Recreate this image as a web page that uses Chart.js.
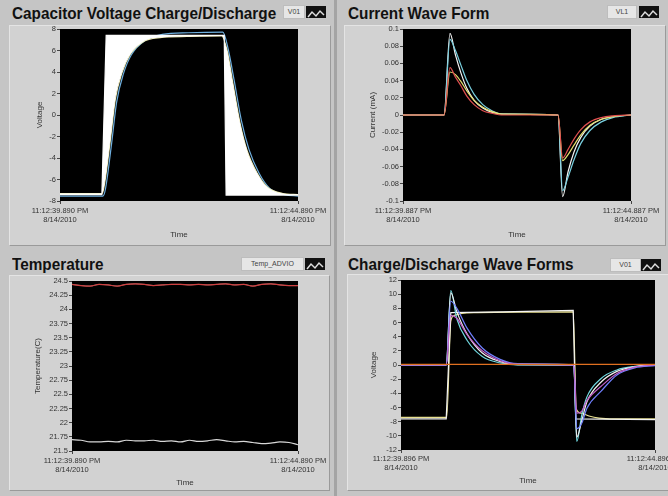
<!DOCTYPE html>
<html>
<head>
<meta charset="utf-8">
<script src="https://cdn.jsdelivr.net/npm/chart.js@4.4.0/dist/chart.umd.min.js"></script>
<style>
  body { margin: 0; width: 668px; height: 496px; overflow: hidden; background: #c5c5c5; position: relative; font-family: 'Liberation Sans', Arial, sans-serif; }
  .frame { position: absolute; background: #d2d2d2; border-top: 1px solid #e4e4e4; border-left: 1px solid #e4e4e4; border-right: 1px solid #9a9a9a; border-bottom: 1px solid #9a9a9a; }
  .title { position: absolute; font-weight: bold; font-size: 17px; color: #111; white-space: nowrap; transform-origin: 0 0; transform: scaleX(0.9); }
  .leg { position: absolute; background: #e6e6e6; border: 1px solid #bdbdbd; font-size: 7px; color: #444; line-height: 12px; text-align: center; }
  .icon { position: absolute; background: #111; }
  .divider { position: absolute; left: 334px; top: 0; width: 3px; height: 496px; background: #a4a4a4; }
  canvas { position: absolute; }
</style>
</head>
<body>
<div class="divider"></div>

<div class="frame" style="left:9px;top:25px;width:320px;height:219px"></div>
<div class="frame" style="left:344px;top:25px;width:320px;height:219px"></div>
<div class="frame" style="left:9px;top:275px;width:319px;height:214px"></div>
<div class="frame" style="left:347px;top:274px;width:322px;height:215px"></div>

<div class="title" style="left:12px;top:4px">Capacitor Voltage Charge/Discharge</div>
<div class="title" style="left:348px;top:4px">Current Wave Form</div>
<div class="title" style="left:12px;top:255px">Temperature</div>
<div class="title" style="left:348px;top:255px">Charge/Discharge Wave Forms</div>

<div class="leg" style="left:283px;top:5px;width:20px;height:12px">V01</div>
<div class="icon" style="left:306px;top:6px;width:20px;height:12px"><svg width="20" height="12"><polyline points="2,9 6,4 10,8 14,3 18,7" fill="none" stroke="#ddd" stroke-width="1.5"/></svg></div>
<div class="leg" style="left:607px;top:5px;width:28px;height:12px">VL1</div>
<div class="icon" style="left:639px;top:6px;width:20px;height:12px"><svg width="20" height="12"><polyline points="2,9 6,4 10,8 14,3 18,7" fill="none" stroke="#ddd" stroke-width="1.5"/></svg></div>
<div class="leg" style="left:241px;top:257px;width:61px;height:12px">Temp_ADVIO</div>
<div class="icon" style="left:305px;top:258px;width:20px;height:12px"><svg width="20" height="12"><polyline points="2,9 6,4 10,8 14,3 18,7" fill="none" stroke="#ddd" stroke-width="1.5"/></svg></div>
<div class="leg" style="left:610px;top:258px;width:29px;height:12px">V01</div>
<div class="icon" style="left:641px;top:259px;width:20px;height:12px"><svg width="20" height="12"><polyline points="2,9 6,4 10,8 14,3 18,7" fill="none" stroke="#ddd" stroke-width="1.5"/></svg></div>

<canvas id="cap" width="334" height="248" style="left:0;top:0"></canvas>
<canvas id="cur" width="334" height="248" style="left:334px;top:0"></canvas>
<canvas id="temp" width="334" height="248" style="left:0;top:248px"></canvas>
<canvas id="cd" width="360" height="248" style="left:334px;top:248px"></canvas>

<script>
// Capacitor Voltage Charge/Discharge (time in s from start)
const capSquareT = [0, 0.88, 0.97, 3.45, 3.49, 5];
const capSquareV = [-7.4, -7.4, 7.4, 7.4, -7.45, -7.45];
const capCurveT = [0, 0.88, 0.92, 1.05, 1.16, 1.30, 1.47, 1.74, 2.10, 2.67, 3.40, 3.51, 3.63, 3.78, 3.93, 4.14, 4.35, 4.68, 5];
const capCurveV = [-7.3, -7.3, -6.8, -2.6, 1.4, 3.9, 5.6, 6.8, 7.2, 7.3, 7.35, 6.0, 3.0, -0.7, -3.3, -5.4, -6.7, -7.3, -7.4];
const capBlueT = [0, 0.9, 0.95, 1.08, 1.19, 1.33, 1.5, 1.78, 2.15, 2.7, 3.42, 3.53, 3.66, 3.81, 3.97, 4.18, 4.4, 4.72, 5];
const capBlueV = [-7.55, -7.55, -7.0, -2.8, 1.2, 3.8, 5.6, 6.9, 7.5, 7.65, 7.7, 6.2, 3.2, -0.5, -3.2, -5.4, -6.8, -7.4, -7.55];
const capXLabels = [['11:12:39.890 PM', '8/14/2010'], ['11:12:44.890 PM', '8/14/2010']];

// Current Wave Form
const curT = [0, 0.9, 1.03, 1.15, 1.27, 1.4, 1.56, 1.75, 1.95, 2.2, 3.4, 3.5, 3.62, 3.75, 3.9, 4.1, 4.35, 4.6, 5];
const curWhite = [0, 0, 0.095, 0.07, 0.049, 0.031, 0.017, 0.008, 0.003, 0.001, 0, -0.095, -0.066, -0.043, -0.026, -0.013, -0.005, -0.002, 0];
const curCyan = [0, 0, 0.088, 0.075, 0.058, 0.04, 0.024, 0.012, 0.005, 0.001, 0, -0.088, -0.072, -0.052, -0.033, -0.018, -0.008, -0.003, 0];
const curRed = [0, 0, 0.055, 0.044, 0.034, 0.022, 0.012, 0.005, 0.002, 0, 0, -0.05, -0.04, -0.028, -0.017, -0.008, -0.003, -0.001, 0];
const curYellow = [0, 0, 0.05, 0.047, 0.039, 0.028, 0.017, 0.009, 0.004, 0.001, 0, -0.053, -0.046, -0.035, -0.023, -0.012, -0.005, -0.002, 0];
const curXLabels = [['11:12:39.887 PM', '8/14/2010'], ['11:12:44.887 PM', '8/14/2010']];

// Temperature
const tempT = [0, 0.2, 0.4, 0.6, 0.8, 1.0, 1.2, 1.4, 1.6, 1.8, 2.0, 2.2, 2.4, 2.6, 2.8, 3.0, 3.2, 3.4, 3.6, 3.8, 4.0, 4.2, 4.4, 4.6, 4.8, 5.0];
const tempTop = [24.44, 24.42, 24.41, 24.44, 24.43, 24.41, 24.44, 24.45, 24.44, 24.42, 24.43, 24.44, 24.44, 24.43, 24.44, 24.43, 24.44, 24.45, 24.43, 24.44, 24.41, 24.44, 24.45, 24.43, 24.42, 24.42];
const tempBottom = [21.70, 21.69, 21.66, 21.66, 21.67, 21.66, 21.69, 21.68, 21.68, 21.69, 21.67, 21.68, 21.66, 21.69, 21.67, 21.68, 21.70, 21.68, 21.66, 21.67, 21.65, 21.63, 21.64, 21.66, 21.65, 21.61];
const tempXLabels = [['11:12:39.890 PM', '8/14/2010'], ['11:12:44.890 PM', '8/14/2010']];

// Charge/Discharge Wave Forms
const cdSquareT = [0, 0.89, 0.98, 2.0, 3.39, 3.44, 5];
const cdSquareV = [-7.6, -7.6, 7.4, 7.5, 7.7, -7.6, -7.7];
const cdCapT = [0, 0.9, 0.98, 1.05, 1.2, 1.5, 3.39, 3.45, 3.55, 3.7, 3.9, 4.2, 5];
const cdCapV = [-7.4, -7.4, 6.2, 7.0, 7.3, 7.4, 7.5, -6.2, -6.8, -7.2, -7.5, -7.6, -7.6];
const cdZeroT = [0, 5];
const cdZeroV = [0.1, 0.1];
const cdSpikeT = [0, 0.89, 0.98, 1.1, 1.3, 1.6, 1.95, 2.3, 3.4, 3.46, 3.56, 3.66, 3.94, 4.25, 4.6, 5];
const cdCyan = [0, 0, 10.5, 6.5, 3.5, 1.2, 0.3, 0, 0, -10.8, -7.0, -4.5, -1.9, -0.7, -0.2, 0];
const cdWhite = [0, 0, 10.2, 7.5, 4.4, 1.7, 0.5, 0.05, 0, -10.2, -7.8, -5.2, -2.4, -0.9, -0.25, 0];
const cdBlue = [0, 0, 9.0, 8.0, 5.2, 2.4, 0.8, 0.2, 0, -9.0, -8.2, -6.1, -3.7, -1.4, -0.4, -0.1];
const cdPurple = [0, 0, 7.0, 6.6, 4.3, 2.0, 0.6, 0.1, 0, -6.8, -6.5, -5.0, -3.0, -1.2, -0.3, 0];
const cdXLabels = [['11:12:39.896 PM', '8/14/2010'], ['11:12:44.896 PM', '8/14/2010']];

const pts = (t, v) => t.map((x, i) => ({ x: x, y: v[i] }));
const line = (t, v, color, extra) => Object.assign({ data: pts(t, v), borderColor: color, borderWidth: 1.2, fill: false }, extra || {});

// black plot area like the LabVIEW graph
const plotBg = {
  id: 'plotBg',
  beforeDraw(chart) {
    const { ctx, chartArea: a } = chart;
    ctx.save();
    ctx.fillStyle = '#000';
    ctx.fillRect(a.left, a.top, a.width, a.height);
    ctx.restore();
  }
};

const tickFont = { family: "'Liberation Sans', Arial, sans-serif", size: 7.5 };

function makeChart(id, datasets, o) {
  return new Chart(document.getElementById(id), {
    type: 'line',
    data: { datasets: datasets },
    options: {
      responsive: false,
      animation: false,
      layout: { padding: o.pad },
      plugins: { legend: { display: false }, tooltip: { enabled: false } },
      elements: { point: { radius: 0 }, line: { cubicInterpolationMode: 'monotone' } },
      scales: {
        x: {
          type: 'linear', min: 0, max: 5,
          border: { display: false },
          grid: { drawOnChartArea: false, color: 'transparent', tickColor: '#444', tickLength: 3 },
          ticks: { font: tickFont, color: '#333', padding: o.xpad, maxRotation: 0, autoSkip: false, callback: (v, i) => o.xLabels[i] },
          title: { display: true, text: 'Time', font: { family: tickFont.family, size: 8 }, color: '#333', padding: 0 },
          afterBuildTicks: s => { s.ticks = [{ value: 0 }, { value: 5 }]; },
          afterFit: s => { s.height = o.xh; }
        },
        y: {
          min: o.ymin, max: o.ymax,
          border: { display: false },
          grid: { drawOnChartArea: false, color: 'transparent', tickColor: '#444', tickLength: 3 },
          ticks: { font: tickFont, color: '#333', padding: 1, stepSize: o.step, autoSkip: false, callback: v => String(Number(v.toFixed(3))) },
          title: { display: true, text: o.ytitle, font: { family: tickFont.family, size: 8 }, color: '#333', padding: 0 },
          afterFit: s => { s.width = o.yw; }
        }
      }
    },
    plugins: [plotBg]
  });
}

makeChart('cap', [
  line(capSquareT, capSquareV, '#ffffff', { fill: { target: 1 }, backgroundColor: '#ffffff', cubicInterpolationMode: 'default', tension: 0 }),
  line(capCurveT, capCurveV, '#f0ecb0'),
  line(capBlueT, capBlueV, '#6fb0e0')
], { pad: { left: 35, top: 29, right: 36, bottom: 8 }, yw: 25, xh: 39, xpad: 2, ymin: -8, ymax: 8, step: 2, ytitle: 'Voltage', xLabels: capXLabels });

makeChart('cur', [
  line(curT, curRed, '#e05050'),
  line(curT, curYellow, '#e8e070'),
  line(curT, curCyan, '#78d0e0'),
  line(curT, curWhite, '#f4f4f4')
], { pad: { left: 34, top: 29, right: 37, bottom: 8 }, yw: 35, xh: 39, xpad: 2, ymin: -0.1, ymax: 0.1, step: 0.02, ytitle: 'Current (mA)', xLabels: curXLabels });

makeChart('temp', [
  line(tempT, tempTop, '#d04040'),
  line(tempT, tempTop, '#e8c0c0', { borderWidth: 0.6 }),
  line(tempT, tempBottom, '#d8d8d8')
], { pad: { left: 33, top: 33, right: 36, bottom: 8 }, yw: 39, xh: 37, xpad: 2, ymin: 21.5, ymax: 24.5, step: 0.25, ytitle: 'Temperature(C)', xLabels: tempXLabels });

makeChart('cd', [
  line(cdZeroT, cdZeroV, '#e07020'),
  line(cdSpikeT, cdPurple, '#c060c8'),
  line(cdSpikeT, cdBlue, '#7080ff'),
  line(cdSpikeT, cdWhite, '#f0f0f0'),
  line(cdSpikeT, cdCyan, '#70d8e0'),
  line(cdSquareT, cdSquareV, '#f4f4f4', { cubicInterpolationMode: 'default', tension: 0 }),
  line(cdCapT, cdCapV, '#e8e090')
], { pad: { left: 35, top: 32, right: 39, bottom: 10 }, yw: 32, xh: 36, xpad: 1, ymin: -12, ymax: 12, step: 2, ytitle: 'Voltage', xLabels: cdXLabels });
</script>
</body>
</html>
